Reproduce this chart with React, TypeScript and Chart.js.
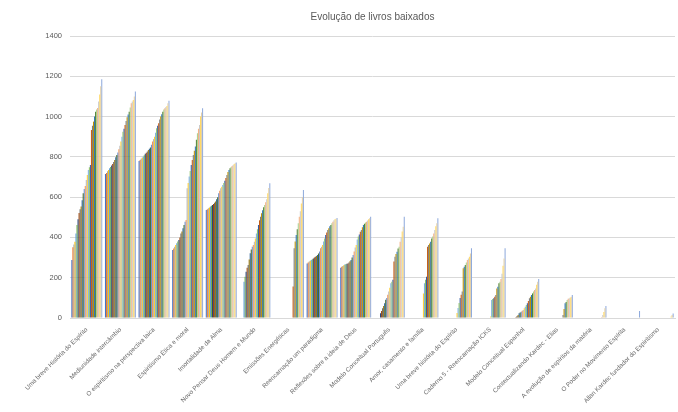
import React, { useEffect, useRef } from 'react';
import Chart from 'chart.js/auto';

const bookTitles = [
  'Uma breve História do Espírito',
  'Mediunidade intercâmbio',
  'O espiritismo na perspectiva laica',
  'Espiritismo Ética e moral',
  'Imortalidade da Alma',
  'Novo Pensar Deus Homem e Mundo',
  'Emissões Energéticas',
  'Reencarnação um paradigma',
  'Reflexões sobre a ideia de Deus',
  'Modelo Conceitual Português',
  'Amor, casamento e família',
  'Uma breve história do Espírito',
  'Caderno 5 - Reencarnação ICKS',
  'Modelo Conceitual Espanhol',
  'Contextualizando Kardec - Elias',
  'A evolução de espíritos da matéria',
  'O Poder no Movimento Espírita',
  'Allan Kardec fundador do Espiritismo',
];

// downloads per book, one value per snapshot (30 snapshots, oldest first)
const umaBreveHistoria = [288, 351, 365, 379, 420, 462, 490, 521, 540, 553, 585, 619, 640, 655, 685, 710, 735, 748, 760, 933, 955, 975, 1000, 1024, 1035, 1043, 1075, 1110, 1150, 1185];
const mediunidade = [715, 720, 728, 735, 743, 750, 757, 765, 775, 785, 798, 809, 822, 838, 855, 876, 900, 925, 940, 958, 978, 997, 1010, 1024, 1045, 1066, 1075, 1082, 1100, 1124];
const espiritismoLaica = [780, 785, 790, 795, 801, 808, 815, 820, 826, 834, 840, 847, 860, 876, 888, 900, 920, 942, 955, 967, 985, 1000, 1012, 1024, 1035, 1041, 1048, 1053, 1066, 1079];
const eticaMoral = [338, 345, 354, 362, 371, 380, 387, 400, 420, 429, 445, 462, 478, 487, 644, 670, 702, 730, 760, 785, 809, 830, 851, 885, 917, 940, 958, 1000, 1020, 1041];
const imortalidade = [536, 540, 545, 548, 553, 557, 561, 566, 572, 578, 589, 600, 619, 632, 644, 652, 660, 670, 682, 695, 710, 725, 735, 743, 750, 755, 760, 765, 768, 772];
const novoPensar = [0, 0, 0, 0, 180, 205, 230, 250, 263, 290, 321, 340, 354, 362, 379, 395, 420, 440, 462, 485, 503, 520, 535, 550, 561, 575, 590, 619, 645, 669];
const emissoes = [0, 0, 0, 0, 0, 0, 0, 0, 0, 0, 0, 0, 0, 0, 0, 0, 0, 0, 0, 156, 346, 380, 412, 440, 470, 503, 530, 569, 600, 636];
const reencarnacao = [271, 275, 280, 284, 288, 292, 296, 300, 304, 308, 313, 320, 330, 346, 354, 362, 380, 395, 412, 425, 437, 445, 455, 462, 470, 478, 485, 490, 493, 496];
const reflexoes = [250, 255, 258, 262, 265, 267, 269, 271, 276, 282, 288, 300, 313, 330, 350, 363, 390, 404, 415, 428, 437, 450, 462, 468, 474, 478, 484, 490, 495, 503];
const modeloPortugues = [0, 0, 0, 0, 0, 0, 23, 35, 48, 60, 73, 90, 99, 115, 131, 150, 172, 180, 190, 280, 304, 318, 329, 345, 354, 379, 400, 430, 453, 503];
const amorCasamento = [0, 0, 0, 0, 0, 0, 0, 0, 0, 0, 0, 0, 0, 0, 0, 122, 172, 190, 205, 354, 362, 370, 379, 395, 404, 420, 437, 455, 470, 495];
const breveHistoria2 = [0, 0, 0, 0, 0, 0, 0, 0, 0, 0, 0, 0, 0, 0, 0, 25, 50, 75, 99, 115, 131, 247, 255, 263, 275, 288, 296, 304, 320, 346];
const caderno5 = [0, 0, 0, 0, 0, 0, 0, 0, 0, 0, 0, 0, 0, 0, 0, 8, 89, 94, 98, 106, 114, 147, 155, 172, 180, 194, 220, 260, 296, 346];
const modeloEspanhol = [0, 0, 0, 0, 0, 0, 0, 5, 10, 15, 23, 27, 31, 36, 40, 48, 56, 64, 73, 85, 98, 106, 114, 122, 131, 139, 147, 165, 180, 194];
const contextualizando = [0, 0, 0, 0, 0, 0, 0, 0, 0, 0, 0, 0, 0, 0, 0, 0, 0, 0, 0, 0, 15, 45, 73, 80, 89, 95, 98, 102, 106, 114];
const evolucaoEspiritos = [0, 0, 0, 0, 0, 0, 0, 0, 0, 0, 0, 0, 0, 0, 0, 0, 0, 0, 0, 0, 0, 0, 0, 0, 0, 5, 15, 30, 48, 60];
const poderMovimento = [0, 0, 0, 0, 0, 0, 0, 0, 0, 0, 0, 0, 0, 0, 0, 0, 0, 0, 0, 0, 0, 0, 0, 0, 0, 0, 0, 0, 0, 35];
const allanKardec = [0, 0, 0, 0, 0, 0, 0, 0, 0, 0, 0, 0, 0, 0, 0, 0, 0, 0, 0, 0, 0, 0, 0, 0, 0, 0, 0, 8, 15, 22];

const bookValues = [
  umaBreveHistoria, mediunidade, espiritismoLaica, eticaMoral, imortalidade, novoPensar,
  emissoes, reencarnacao, reflexoes, modeloPortugues, amorCasamento, breveHistoria2,
  caderno5, modeloEspanhol, contextualizando, evolucaoEspiritos, poderMovimento, allanKardec,
];

const seriesColors = [
  '#4472C4', '#ED7D31', '#A5A5A5', '#FFC000', '#5B9BD5', '#70AD47',
  '#264478', '#9E480E', '#636363', '#997300', '#255E91', '#43682B',
  '#698ED0', '#F1975A', '#B7B7B7', '#FFCD33', '#7CAFDD', '#8CC168',
  '#335AA1', '#C55A11', '#7C7C7C', '#BF9000', '#2E75B6', '#548235',
  '#A9D18E', '#F4B183', '#C9C9C9', '#FFD966', '#E2CFA8', '#8FAADC',
];

const yTicks = [0, 200, 400, 600, 800, 1000, 1200, 1400];

const FONT = "'Liberation Sans', Arial, sans-serif";

const App: React.FC = () => {
  const chartRef = useRef<HTMLCanvasElement>(null);

  useEffect(() => {
    if (!chartRef.current) return;
    const ctx = chartRef.current.getContext('2d');
    if (!ctx) return;

    const datasets = seriesColors.map((color, s) => ({
      label: `Série ${s + 1}`,
      data: bookValues.map(v => v[s]),
      backgroundColor: color,
      borderWidth: 0,
      categoryPercentage: 0.92,
      barPercentage: 1,
    }));

    const chart = new Chart(ctx, {
      type: 'bar',
      data: { labels: bookTitles, datasets },
      options: {
        responsive: true,
        maintainAspectRatio: false,
        animation: false,
        layout: { padding: { left: 0, right: 3, top: 0, bottom: 0 } },
        scales: {
          x: {
            grid: { display: false },
            border: { color: '#D9D9D9' },
            ticks: {
              autoSkip: false,
              minRotation: 45,
              maxRotation: 45,
              color: '#6b6b6b',
              padding: 0,
              font: { family: FONT, size: 6.3 },
            },
            afterFit: (scale: any) => { scale.height = 94; },
          },
          y: {
            min: yTicks[0],
            max: yTicks[yTicks.length - 1],
            afterBuildTicks: (scale: any) => { scale.ticks = yTicks.map(v => ({ value: v })); },
            grid: { color: '#D9D9D9', drawTicks: false },
            border: { display: false },
            ticks: {
              color: '#595959',
              padding: 8,
              font: { family: FONT, size: 7.5 },
              callback: (value: any) => String(value),
            },
            afterFit: (scale: any) => { scale.width = 70; },
          },
        },
        plugins: {
          legend: { display: false },
          tooltip: { enabled: false },
          title: {
            display: true,
            fullSize: false,
            text: 'Evolução de livros baixados',
            color: '#595959',
            font: { family: FONT, size: 10, weight: 'normal' },
            padding: { top: 11, bottom: 13 },
          },
        },
      },
    });

    return () => {
      chart.destroy();
    };
  }, []);

  return (
    <div style={{ position: 'fixed', left: 0, top: 0, width: 678, height: 412, background: '#fff' }}>
      <canvas ref={chartRef} />
    </div>
  );
};

export default App;
